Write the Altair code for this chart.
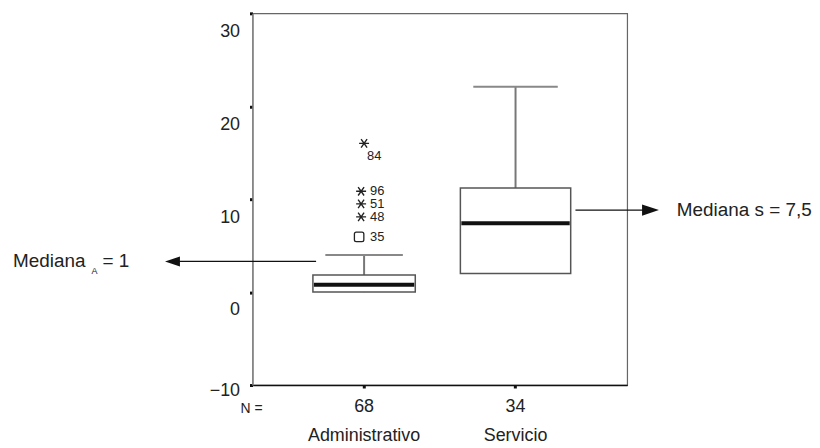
import altair as alt
import pandas as pd

# ---------------- data ----------------
categories = ["Administrativo", "Servicio"]
n_counts = ["68", "34"]
whisker_low = [0.0, 2.0]
q1 = [0.0, 2.0]
medians = [0.8, 7.4]
q3 = [1.85, 11.2]
whisker_high = [4.0, 22.1]

outlier_ids = ["84", "96", "51", "48", "35"]
outlier_values = [16.0, 10.85, 9.5, 8.1, 5.95]
outlier_kinds = ["extreme", "extreme", "extreme", "extreme", "outlier"]
outlier_category = ["Administrativo"] * 5

y_ticks = [-10, 0, 10, 20, 30]

annot_left_y = [3.3]
annot_right_y = [8.83]

# ---------------- tables ----------------
box_df = pd.DataFrame({
    "category": categories, "n": n_counts, "lo": whisker_low, "q1": q1,
    "med": medians, "q3": q3, "hi": whisker_high,
})
out_df = pd.DataFrame({
    "category": outlier_category, "id": outlier_ids,
    "value": outlier_values, "kind": outlier_kinds,
})
left_df = pd.DataFrame({"y": annot_left_y})
right_df = pd.DataFrame({"y": annot_right_y})
nlab_df = pd.DataFrame({"t": ["N ="]})

FONT = "Liberation Sans, Arial, sans-serif"
W, H = 377, 374

xscale = alt.Scale(domain=categories, paddingInner=0.3, paddingOuter=0.387)
xaxis = alt.Axis(title=None, labels=False, domainColor="#111", domainWidth=1.5,
                 tickColor="#111", tickSize=3, tickWidth=3)
yscale = alt.Scale(domain=[-10, 30], nice=False, zero=False)
yaxis = alt.Axis(title=None, values=y_ticks, grid=False, domainColor="#888",
                 domainWidth=1.5, tickColor="#111", tickSize=3, tickWidth=3,
                 labelFont=FONT, labelFontSize=18, labelColor="#222",
                 labelPadding=10,
                 labelOffset={"condition": {"test": "datum.value == -10", "value": 6},
                              "value": 18})


def X():
    return alt.X("category:N", scale=xscale, axis=xaxis)


def Y(f):
    return alt.Y(f"{f}:Q", scale=yscale, axis=yaxis)


box_size = alt.condition("datum.category == 'Servicio'", alt.value(111), alt.value(103))
cap_size = alt.condition("datum.category == 'Servicio'", alt.value(85), alt.value(78))
med_size = alt.condition("datum.category == 'Servicio'", alt.value(109), alt.value(101))

base = alt.Chart(box_df)

whisker = base.mark_rule(color="#777", strokeWidth=2, opacity=1).encode(
    x=X(), y=Y("lo"), y2="hi")
caps = base.mark_tick(color="#888", thickness=2, opacity=1).encode(
    x=X(), y=Y("hi"), size=cap_size)
box = base.mark_bar(fill="white", stroke="#555", strokeWidth=1.5, opacity=1).encode(
    x=X(), y=Y("q1"), y2="q3", size=box_size)
med = base.mark_tick(color="#111", thickness=4, opacity=1).encode(
    x=X(), y=Y("med"), size=med_size)

STAR = "M-1,0L1,0M-0.6,-0.85L0.6,0.85M-0.6,0.85L0.6,-0.85"
RSQ = ("M-0.6,-1L0.6,-1A0.4,0.4 0 0 1 1,-0.6L1,0.6A0.4,0.4 0 0 1 0.6,1"
       "L-0.6,1A0.4,0.4 0 0 1 -1,0.6L-1,-0.6A0.4,0.4 0 0 1 -0.6,-1Z")

obase = alt.Chart(out_df)
star84 = obase.transform_filter("datum.id == '84'").mark_point(
    shape=STAR, size=100, filled=False, color="#222", strokeWidth=1.4, opacity=1
).encode(x=X(), y=Y("value"))
stars = obase.transform_filter("datum.kind == 'extreme' && datum.id != '84'").mark_point(
    shape=STAR, size=100, filled=False, color="#222", strokeWidth=1.4, opacity=1, xOffset=-3
).encode(x=X(), y=Y("value"))
squares = obase.transform_filter("datum.kind == 'outlier'").mark_point(
    shape=RSQ, size=90, filled=False, color="#222", strokeWidth=1.3, opacity=1, xOffset=-5
).encode(x=X(), y=Y("value"))
lab84 = obase.transform_filter("datum.id == '84'").mark_text(
    align="left", baseline="middle", dx=3, dy=13, font=FONT, fontSize=13, color="#222"
).encode(x=X(), y=Y("value"), text="id:N")
labs = obase.transform_filter("datum.id != '84'").mark_text(
    align="left", baseline="middle", dx=6, font=FONT, fontSize=13, color="#222"
).encode(x=X(), y=Y("value"), text="id:N")

ncount = base.mark_text(baseline="alphabetic", font=FONT, fontSize=18, color="#222").encode(
    x=X(), y=alt.value(H + 27), text="n:N")
names = base.mark_text(baseline="alphabetic", font=FONT, fontSize=18, color="#222").encode(
    x=X(), y=alt.value(H + 56), text="category:N")
nlab = alt.Chart(nlab_df).mark_text(baseline="alphabetic", font=FONT, fontSize=14, color="#222").encode(
    x=alt.value(-1), y=alt.value(H + 28), text="t:N")

ARROW_L = "M-1,0L1,-0.67L1,0.67Z"
ARROW_R = "M1,0L-1,-0.67L-1,0.67Z"

lbase = alt.Chart(left_df)
l_rule = lbase.mark_rule(color="#111", strokeWidth=1.2).encode(
    x=alt.value(-80), x2=alt.value(64), y=Y("y"))
l_head = lbase.mark_point(shape=ARROW_L, size=225, filled=True, color="#111", opacity=1).encode(
    x=alt.value(-80.5), y=Y("y"))
l_t1 = lbase.mark_text(align="left", baseline="middle", font=FONT, fontSize=19, color="#222",
                       text="Mediana").encode(x=alt.value(-241), y=Y("y"))
l_t2 = lbase.mark_text(align="left", baseline="middle", font=FONT, fontSize=9, color="#222",
                       text="A", dy=10).encode(x=alt.value(-162), y=Y("y"))
l_t3 = lbase.mark_text(align="left", baseline="middle", font=FONT, fontSize=19, color="#222",
                       text="= 1").encode(x=alt.value(-151), y=Y("y"))

rbase = alt.Chart(right_df)
r_rule = rbase.mark_rule(color="#111", strokeWidth=1.2).encode(
    x=alt.value(325), x2=alt.value(401), y=Y("y"))
r_head = rbase.mark_point(shape=ARROW_R, size=289, filled=True, color="#111", opacity=1).encode(
    x=alt.value(400.5), y=Y("y"))
r_t = rbase.mark_text(align="left", baseline="middle", font=FONT, fontSize=19, color="#222",
                      text="Mediana s = 7,5").encode(x=alt.value(427), y=Y("y"))

chart = alt.layer(
    whisker, caps, box, med, star84, stars, squares, lab84, labs,
    ncount, names, nlab, l_rule, l_head, l_t1, l_t2, l_t3, r_rule, r_head, r_t
).properties(
    width=W, height=H,
    padding={"left": 246, "top": 4, "right": 186, "bottom": 62},
    autosize=alt.AutoSizeParams(type="none"),
    background="white",
).configure_view(stroke="#666", strokeWidth=1.2)

chart.save("out.html", embed_options={"renderer": "svg", "actions": False})
